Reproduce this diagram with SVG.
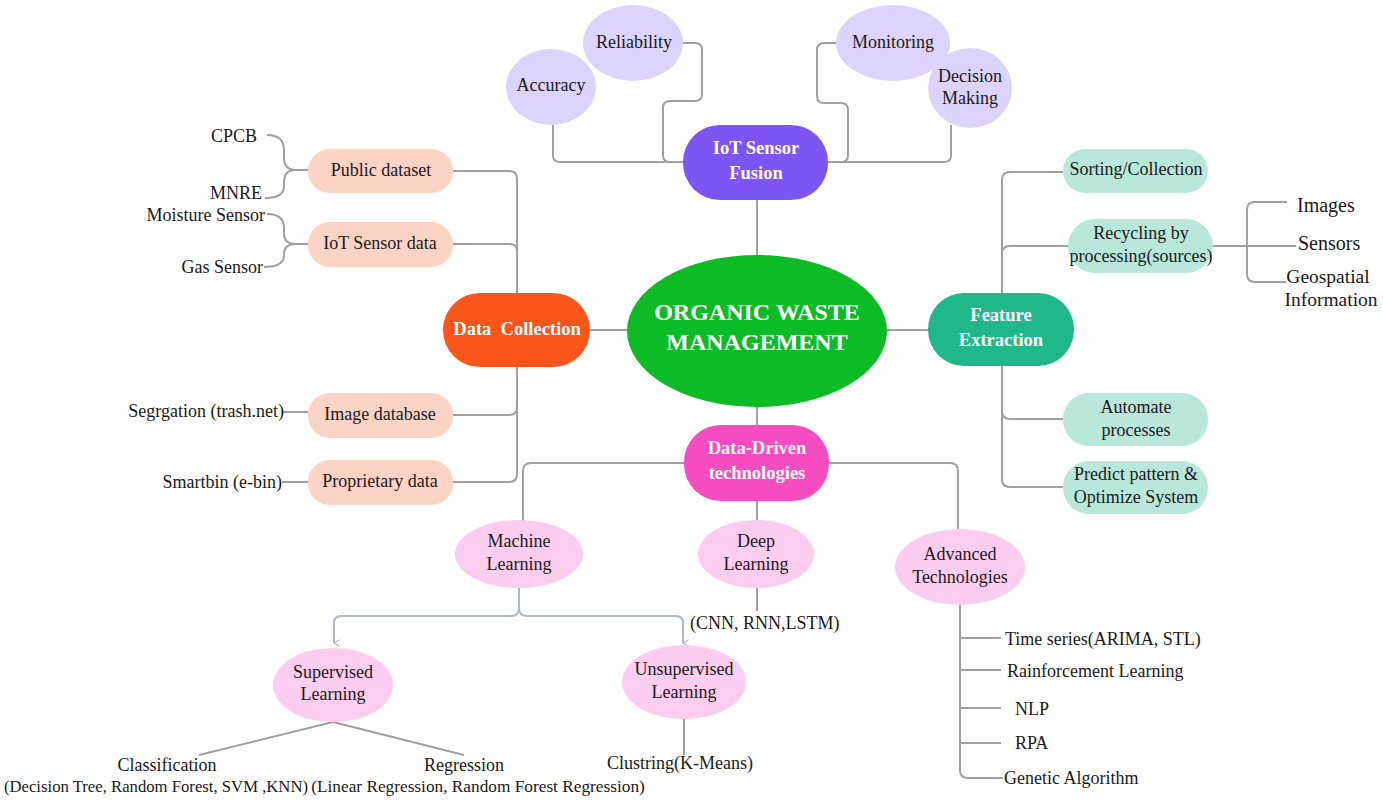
<svg xmlns="http://www.w3.org/2000/svg" width="1383" height="805" viewBox="0 0 1383 805">
<style>
text{font-family:"Liberation Serif","Times New Roman",serif;fill:#1a1a1a;font-size:18px}
.c{text-anchor:middle;dominant-baseline:central}
.l{dominant-baseline:central}
.r{text-anchor:end;dominant-baseline:central}
.w{fill:#fff;font-weight:bold;font-size:18.5px}
.big{font-size:24px}
.lg{font-size:20px}
.md{font-size:19.5px}
.sm{font-size:16.7px}
.sm2{font-size:17.3px}
.ln{fill:none;stroke:#a0a0a0;stroke-width:2}
.bl{fill:none;stroke:#aebbc7;stroke-width:2}
.lav{fill:#ddd4fb}
.pch{fill:#fcd3c4}
.mnt{fill:#b9e8da}
.pnk{fill:#fccdee}
</style>
<defs>
<marker id="ah" viewBox="0 0 10 10" refX="5" refY="9" markerWidth="8" markerHeight="8" orient="auto-start-reverse" markerUnits="userSpaceOnUse">
<path d="M1 2 L5 9 L9 2" fill="none" stroke="#aebbc7" stroke-width="1.6"/>
</marker>
</defs>
<rect width="1383" height="805" fill="#fff"/>
<g id="connectors">
<line class="ln" x1="757" y1="200" x2="757" y2="255"/>
<line class="ln" x1="757" y1="407" x2="757" y2="425"/>
<line class="ln" x1="590" y1="330" x2="627" y2="330"/>
<line class="ln" x1="887" y1="330" x2="928" y2="330"/>
<path class="ln" d="M553 125 V155 Q553 162 560 162 H683"/>
<path class="ln" d="M683 43 H695 Q702 43 702 50 V94 Q702 101 695 101 H670 Q663 101 663 108 V155 Q663 162 670 162 H683"/>
<path class="ln" d="M836 43 H824 Q817 43 817 50 V96 Q817 103 824 103 H841 Q848 103 848 110 V155 Q848 162 841 162 H828"/>
<path class="ln" d="M951 125 V155 Q951 162 944 162 H828"/>
<path class="ln" d="M517 293 V179 Q517 171 509 171 H453"/>
<path class="ln" d="M517 251 Q517 244 510 244 H453"/>
<path class="ln" d="M517 367 V407 Q517 415 509 415 H453"/>
<path class="ln" d="M517 407 V474 Q517 482 509 482 H453"/>
<path class="ln" d="M267 135 Q284 135 284 150 V158 Q284 170 296 170 H308"/>
<path class="ln" d="M265 198 Q284 198 284 186 V182 Q284 170 296 170"/>
<path class="ln" d="M267 214 Q284 214 284 228 V234 Q284 244 296 244 H308"/>
<path class="ln" d="M264 267 Q284 267 284 255 V254 Q284 244 296 244"/>
<line class="ln" x1="283" y1="412" x2="308" y2="412"/>
<line class="ln" x1="282" y1="482" x2="308" y2="482"/>
<path class="ln" d="M1002 293 V180 Q1002 172 1010 172 H1063"/>
<path class="ln" d="M1002 254 Q1002 246 1010 246 H1068"/>
<path class="ln" d="M1002 366 V411 Q1002 419 1010 419 H1063"/>
<path class="ln" d="M1002 411 V479 Q1002 487 1010 487 H1063"/>
<line class="ln" x1="1213" y1="246" x2="1296" y2="246"/>
<path class="ln" d="M1287 202 H1255 Q1247 202 1247 210 V274 Q1247 282 1255 282 H1286"/>
<path class="ln" d="M684 463 H531 Q523 463 523 471 V521"/>
<path class="ln" d="M829 463 H950 Q958 463 958 471 V529"/>
<line class="ln" x1="757" y1="501" x2="757" y2="521"/>
<line class="ln" x1="757" y1="587" x2="757" y2="611"/>
<path class="ln" d="M960 605 V770 Q960 778 968 778 H1003"/>
<line class="ln" x1="960" y1="638" x2="1001" y2="638"/>
<line class="ln" x1="960" y1="670" x2="1001" y2="670"/>
<line class="ln" x1="960" y1="708" x2="1001" y2="708"/>
<line class="ln" x1="960" y1="743" x2="1001" y2="743"/>
<path class="bl" d="M519 587 V608 Q519 616 511 616 H341 Q334 616 334 623 V643" marker-end="url(#ah)"/>
<path class="bl" d="M519 608 Q519 616 527 616 H676 Q683 616 683 623 V643" marker-end="url(#ah)"/>
<line class="ln" x1="333" y1="722" x2="199" y2="755"/>
<line class="ln" x1="333" y1="722" x2="464" y2="755"/>
<line class="ln" x1="684" y1="719" x2="684" y2="755"/>
</g>
<g id="center">
<ellipse cx="757" cy="331" rx="130" ry="76" fill="#0dbb27"/>
<text class="c w big" x="757" y="312">ORGANIC WASTE</text>
<text class="c w big" x="757" y="342">MANAGEMENT</text>
</g>
<g id="iot-fusion">
<rect x="683" y="125" width="145" height="75" rx="37" fill="#7d55f3"/>
<text class="c w" x="756" y="148">IoT Sensor</text>
<text class="c w" x="756" y="173">Fusion</text>
</g>
<g id="accuracy"><ellipse class="lav" cx="551" cy="87" rx="45" ry="38"/><text class="c" x="551" y="85">Accuracy</text></g>
<g id="reliability"><ellipse class="lav" cx="633" cy="43" rx="50" ry="38"/><text class="c" x="634" y="42">Reliability</text></g>
<g id="monitoring"><ellipse class="lav" cx="893" cy="43" rx="57" ry="38"/><text class="c" x="893" y="42">Monitoring</text></g>
<g id="decision"><ellipse class="lav" cx="970" cy="88" rx="42" ry="40"/><text class="c" x="970" y="76">Decision</text><text class="c" x="970" y="98">Making</text></g>
<g id="data-collection">
<rect x="443" y="293" width="147" height="74" rx="37" fill="#fa561c"/>
<text class="c w" x="517" y="329" xml:space="preserve">Data  Collection</text>
</g>
<g id="public-dataset"><rect class="pch" x="308" y="149" width="145" height="44" rx="22"/><text class="c" x="381" y="170">Public dataset</text></g>
<g id="iot-data"><rect class="pch" x="308" y="222" width="145" height="45" rx="22"/><text class="c" x="380" y="243">IoT Sensor data</text></g>
<g id="image-db"><rect class="pch" x="308" y="393" width="145" height="45" rx="22"/><text class="c" x="380" y="414">Image database</text></g>
<g id="proprietary"><rect class="pch" x="308" y="460" width="145" height="45" rx="22"/><text class="c" x="380" y="481">Proprietary data</text></g>
<g id="leaf-cpcb"><text class="r" x="257" y="136">CPCB</text></g>
<g id="leaf-mnre"><text class="r" x="262" y="193">MNRE</text></g>
<g id="leaf-moisture"><text class="r" x="265" y="215">Moisture Sensor</text></g>
<g id="leaf-gas"><text class="r" x="263" y="267">Gas Sensor</text></g>
<g id="leaf-seg"><text class="r" x="284" y="411">Segrgation (trash.net)</text></g>
<g id="leaf-smart"><text class="r" x="282" y="482">Smartbin (e-bin)</text></g>
<g id="feature-extraction">
<rect x="928" y="293" width="146" height="73" rx="36" fill="#20b888"/>
<text class="c w" x="1001" y="315">Feature</text>
<text class="c w" x="1001" y="340">Extraction</text>
</g>
<g id="sorting"><rect class="mnt" x="1063" y="149" width="145" height="44" rx="22"/><text class="c" x="1136" y="169">Sorting/Collection</text></g>
<g id="recycling"><rect class="mnt" x="1068" y="219" width="145" height="54" rx="27"/><text class="c" x="1141" y="233">Recycling by</text><text class="c" x="1141" y="256">processing(sources)</text></g>
<g id="automate"><rect class="mnt" x="1063" y="393" width="145" height="53" rx="26"/><text class="c" x="1136" y="407">Automate</text><text class="c" x="1136" y="430">processes</text></g>
<g id="predict"><rect class="mnt" x="1063" y="461" width="145" height="53" rx="26"/><text class="c" x="1136" y="474">Predict pattern &amp;</text><text class="c" x="1136" y="497">Optimize System</text></g>
<g id="leaf-images"><text class="l lg" x="1297" y="205">Images</text></g>
<g id="leaf-sensors"><text class="l lg" x="1298" y="243">Sensors</text></g>
<g id="leaf-geo"><text class="c md" x="1328" y="276">Geospatial</text><text class="c md" x="1331" y="299">Information</text></g>
<g id="data-driven">
<rect x="684" y="425" width="145" height="76" rx="37" fill="#f54cc1"/>
<text class="c w" x="757" y="448">Data-Driven</text>
<text class="c w" x="757" y="473">technologies</text>
</g>
<g id="machine-learning"><ellipse class="pnk" cx="519" cy="554" rx="64" ry="34"/><text class="c" x="519" y="541">Machine</text><text class="c" x="519" y="564">Learning</text></g>
<g id="deep-learning"><ellipse class="pnk" cx="756" cy="554" rx="58" ry="34"/><text class="c" x="756" y="541">Deep</text><text class="c" x="756" y="564">Learning</text></g>
<g id="advanced"><ellipse class="pnk" cx="960" cy="567" rx="65" ry="38"/><text class="c" x="960" y="554">Advanced</text><text class="c" x="960" y="577">Technologies</text></g>
<g id="supervised"><ellipse class="pnk" cx="333" cy="685" rx="60" ry="37"/><text class="c" x="333" y="672">Supervised</text><text class="c" x="333" y="694">Learning</text></g>
<g id="unsupervised"><ellipse class="pnk" cx="684" cy="682" rx="62" ry="37"/><text class="c" x="684" y="669">Unsupervised</text><text class="c" x="684" y="692">Learning</text></g>
<g id="leaf-cnn"><text class="l" x="690" y="623">(CNN, RNN,LSTM)</text></g>
<g id="leaf-classification"><text class="c" x="167" y="765">Classification</text><text class="c sm" x="156" y="786">(Decision Tree, Random Forest, SVM ,KNN)</text></g>
<g id="leaf-regression"><text class="c" x="464" y="765">Regression</text><text class="c sm2" x="478" y="786">(Linear Regression, Random Forest Regression)</text></g>
<g id="leaf-clustering"><text class="l" x="607" y="763">Clustring(K-Means)</text></g>
<g id="leaf-time"><text class="l" x="1005" y="639">Time series(ARIMA, STL)</text></g>
<g id="leaf-rl"><text class="l" x="1007" y="671">Rainforcement Learning</text></g>
<g id="leaf-nlp"><text class="l" x="1015" y="709">NLP</text></g>
<g id="leaf-rpa"><text class="l" x="1015" y="743">RPA</text></g>
<g id="leaf-ga"><text class="l" x="1004" y="778">Genetic Algorithm</text></g>
</svg>
